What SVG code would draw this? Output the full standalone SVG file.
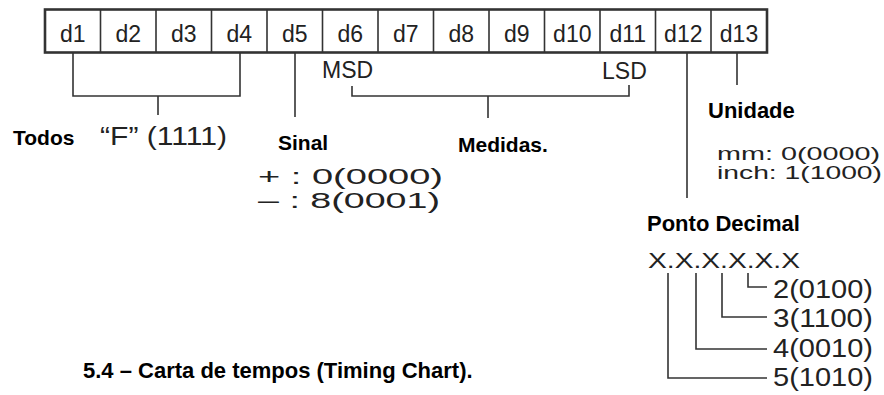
<svg xmlns="http://www.w3.org/2000/svg" width="884" height="395" viewBox="0 0 884 395">
<style>
.reg{font-family:"Liberation Sans",Arial,sans-serif;fill:#222}
.b{font-family:"Liberation Sans",Arial,sans-serif;font-weight:bold;fill:#000}
.cell{font-family:"Liberation Sans",Arial,sans-serif;font-size:23px;fill:#222;text-anchor:middle}
.ln{stroke:#333;stroke-width:1.6;fill:none}
</style>
<rect width="884" height="395" fill="#fff"/>
<g id="register">
<rect x="45" y="9.5" width="722" height="43" fill="#fff" stroke="#333" stroke-width="2.6"/>
<path class="ln" d="M100.5 9.5V52.5M156 9.5V52.5M211.5 9.5V52.5M267 9.5V52.5M322.5 9.5V52.5M378 9.5V52.5M433.5 9.5V52.5M489 9.5V52.5M544.5 9.5V52.5M600 9.5V52.5M655.5 9.5V52.5M711 9.5V52.5"/>
<text class="cell" x="72.8" y="42">d1</text>
<text class="cell" x="128.3" y="42">d2</text>
<text class="cell" x="183.8" y="42">d3</text>
<text class="cell" x="239.3" y="42">d4</text>
<text class="cell" x="294.8" y="42">d5</text>
<text class="cell" x="350.3" y="42">d6</text>
<text class="cell" x="405.8" y="42">d7</text>
<text class="cell" x="461.3" y="42">d8</text>
<text class="cell" x="516.8" y="42">d9</text>
<text class="cell" x="572.3" y="42">d10</text>
<text class="cell" x="627.8" y="42">d11</text>
<text class="cell" x="683.3" y="42">d12</text>
<text class="cell" x="739" y="42">d13</text>
</g>
<g id="connectors">
<path class="ln" d="M73 53V96H240V53M158 96V115"/>
<path class="ln" d="M295 53V117"/>
<path class="ln" d="M352 86V96H629V85M488 96V118"/>
<path class="ln" d="M687 53V198"/>
<path class="ln" d="M737 53V85"/>
<path class="ln" d="M748 273V287H767M722 273V317H767M696 273V349H767M668 273V378H767"/>
</g>
<g id="msd"><text class="reg" x="322" y="78" font-size="23">MSD</text></g>
<g id="lsd"><text class="reg" x="602" y="79" font-size="23">LSD</text></g>
<g id="todos">
<text class="b" x="13" y="145" font-size="21">Todos</text>
<text class="reg" x="100" y="145" font-size="26" textLength="127" lengthAdjust="spacingAndGlyphs">“F” (1111)</text>
</g>
<g id="sinal">
<text class="b" x="278" y="150" font-size="21">Sinal</text>
<text class="reg" x="258" y="184" font-size="22" textLength="185" lengthAdjust="spacingAndGlyphs">+  : 0(0000)</text>
<text class="reg" x="258" y="208" font-size="22" textLength="182" lengthAdjust="spacingAndGlyphs">–  : 8(0001)</text>
</g>
<g id="medidas"><text class="b" x="458" y="152" font-size="21">Medidas.</text></g>
<g id="unidade">
<text class="b" x="708" y="118" font-size="22">Unidade</text>
<text class="reg" x="717" y="160" font-size="19" textLength="163" lengthAdjust="spacingAndGlyphs">mm: 0(0000)</text>
<text class="reg" x="717" y="179" font-size="19" textLength="165" lengthAdjust="spacingAndGlyphs">inch: 1(1000)</text>
</g>
<g id="ponto">
<text class="b" x="647" y="231" font-size="22">Ponto Decimal</text>
<text class="reg" x="648" y="268" font-size="22" textLength="152" lengthAdjust="spacingAndGlyphs">X.X.X.X.X.X</text>
<text class="reg" x="773" y="298" font-size="25" textLength="100" lengthAdjust="spacingAndGlyphs">2(0100)</text>
<text class="reg" x="773" y="327" font-size="25" textLength="100" lengthAdjust="spacingAndGlyphs">3(1100)</text>
<text class="reg" x="773" y="357" font-size="25" textLength="100" lengthAdjust="spacingAndGlyphs">4(0010)</text>
<text class="reg" x="773" y="386" font-size="25" textLength="100" lengthAdjust="spacingAndGlyphs">5(1010)</text>
</g>
<g id="title"><text class="b" x="83" y="378" font-size="22">5.4 – Carta de tempos (Timing Chart).</text></g>
</svg>
